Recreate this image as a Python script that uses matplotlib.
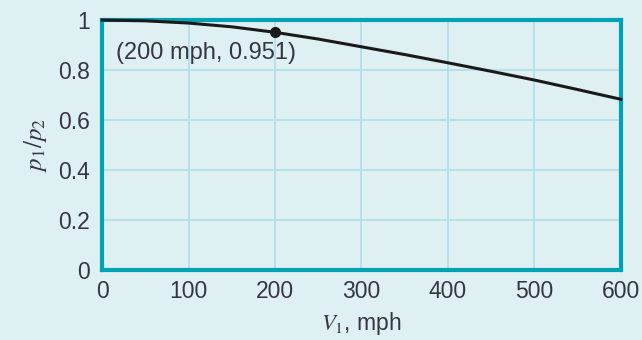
import matplotlib.pyplot as plt

# speed V1 (mph) vs pressure ratio p1/p2
speed = [0, 50, 100, 150, 200, 250, 300, 350, 400, 450, 500, 550, 600]
ratio = [1.0, 0.997, 0.988, 0.973, 0.951, 0.924, 0.893, 0.862, 0.829, 0.795, 0.760, 0.722, 0.683]
pt_x, pt_y = 200, 0.951
xticks = [0, 100, 200, 300, 400, 500, 600]
yticks = [0, 0.2, 0.4, 0.6, 0.8, 1]
ylabels = ['0', '0.2', '0.4', '0.6', '0.8', '1']

bg = '#dff0f3'
teal = '#00a3b4'
gridc = '#b3dfe7'
txt = '#363640'

plt.rcParams['mathtext.fontset'] = 'stix'
plt.rcParams['font.family'] = ['Liberation Sans', 'DejaVu Sans']

fig = plt.figure(figsize=(6.42, 3.4), dpi=100, facecolor=bg)
ax = fig.add_axes([0.159, 0.206, 0.808, 0.735])
ax.set_facecolor(bg)

ax.plot(speed, ratio, color='#1a1a1a', lw=2.2, clip_on=False, zorder=3)
ax.plot(pt_x, pt_y, 'o', color='#1a1a1a', ms=7, clip_on=False, zorder=4)
ax.annotate('(200 mph, 0.951)', xy=(pt_x, pt_y), xytext=(116 / 642, 1 - 53 / 340),
            textcoords='figure fraction', va='center', ha='left', fontsize=17, color=txt)

ax.set_xlim(0, 600)
ax.set_ylim(0, 1)
ax.set_xticks(xticks)
ax.set_yticks(yticks)
ax.set_yticklabels(ylabels)
ax.tick_params(length=0, labelsize=16.5, labelcolor=txt)
ax.tick_params(axis='y', pad=9)
ax.tick_params(axis='x', pad=7)
ax.grid(True, color=gridc, lw=1.3)
ax.set_axisbelow(True)
for s in ax.spines.values():
    s.set_color(teal)
    s.set_linewidth(3)

ax.set_ylabel(r'$p_1/p_2$', fontsize=18, color=txt, labelpad=6)
ax.set_xlabel(r'$V_1$, mph', fontsize=16.5, color=txt, labelpad=5)

plt.savefig('out.png', dpi=100, facecolor=bg)
